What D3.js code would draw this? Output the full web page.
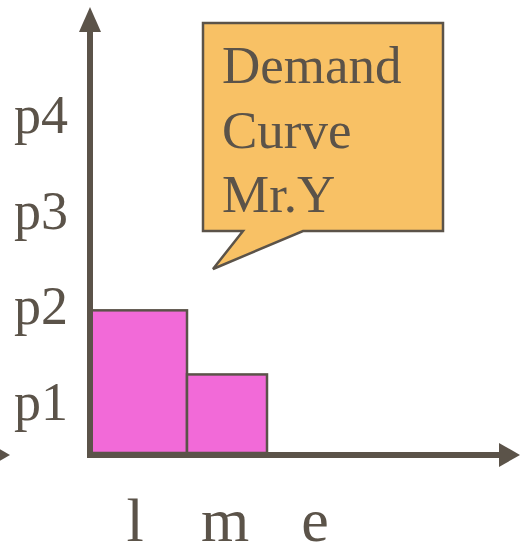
<!DOCTYPE html>
<html>
<head>
<meta charset="utf-8">
<script src="https://cdn.jsdelivr.net/npm/d3@7"></script>
<style>
  html, body { margin: 0; padding: 0; background: #ffffff; }
  svg { display: block; }
</style>
</head>
<body>
<div id="chart"></div>
<script>
// ---- data ----
const priceLabels = ["p1", "p2", "p3", "p4"];
const priceLevels = [1, 2, 3, 4];
const quantityLabels = ["l", "m", "e"];
const barNames = ["l", "m"];
const barPrices = [2, 1.33];          // height of each step
const barQuantityStart = [0, 12];     // step start (quantity units)
const barQuantityEnd = [12, 22];      // step end (quantity units)
const calloutLines = ["Demand", "Curve", "Mr.Y"];

// ---- layout ----
const W = 520, H = 548;
const ink = "#5b5349";
const fontFam = "'Liberation Serif', 'Times New Roman', serif";

const svg = d3.select("#chart").append("svg")
  .attr("width", W).attr("height", H);

const basePrice = 0.488;
const x = d3.scaleLinear().domain([0, 53]).range([91, 515]);
const y = d3.scaleLinear().domain([1, 4]).range([406, 119]);
const xLab = d3.scalePoint().domain(quantityLabels).range([135, 315]);

const bars = barNames.map((n, i) => ({
  name: n, price: barPrices[i], q0: barQuantityStart[i], q1: barQuantityEnd[i]
}));

// bars
svg.append("g").selectAll("rect").data(bars).join("rect")
  .attr("x", d => x(d.q0))
  .attr("y", d => y(d.price))
  .attr("width", d => x(d.q1) - x(d.q0))
  .attr("height", d => y(basePrice) - y(d.price) - 2)
  .attr("fill", "#f26ad8")
  .attr("stroke", ink)
  .attr("stroke-width", 2.5);

// axes
const ax = svg.append("g");
const x0 = 90, y0 = y(basePrice);
ax.append("line").attr("x1", x0).attr("x2", x0).attr("y1", y0 + 3).attr("y2", 30)
  .attr("stroke", ink).attr("stroke-width", 6);
ax.append("path").attr("d", `M79,32 L101,32 L90,7 Z`).attr("fill", ink);
ax.append("line").attr("x1", x0 - 3).attr("x2", 500).attr("y1", y0).attr("y2", y0)
  .attr("stroke", ink).attr("stroke-width", 6);
ax.append("path").attr("d", `M499,${y0 - 12} L520,${y0} L499,${y0 + 12} Z`).attr("fill", ink);
// partial arrowhead at left edge
ax.append("path").attr("d", `M-11,${y0 - 12} L10,${y0} L-11,${y0 + 12} Z`).attr("fill", ink);

// price labels
svg.append("g").selectAll("text").data(priceLevels).join("text")
  .attr("x", 14)
  .attr("y", d => y(d) + 14)
  .attr("font-family", fontFam)
  .attr("font-size", 54)
  .attr("fill", ink)
  .text((d, i) => priceLabels[i]);

// quantity labels
svg.append("g").selectAll("text").data(quantityLabels).join("text")
  .attr("x", d => xLab(d))
  .attr("y", 541)
  .attr("text-anchor", "middle")
  .attr("font-family", fontFam)
  .attr("font-size", 62)
  .attr("fill", ink)
  .text(d => d);

// callout
const co = svg.append("g");
co.append("path")
  .attr("d", "M203,23 H443 V231 H303 L213,269 L243,231 H203 Z")
  .attr("fill", "#f8c165")
  .attr("stroke", ink)
  .attr("stroke-width", 2.5)
  .attr("stroke-linejoin", "miter");
co.selectAll("text").data(calloutLines).join("text")
  .attr("x", 222)
  .attr("y", (d, i) => 83 + i * 64.5)
  .attr("font-family", fontFam)
  .attr("font-size", 53)
  .attr("fill", ink)
  .text(d => d);
</script>
</body>
</html>
